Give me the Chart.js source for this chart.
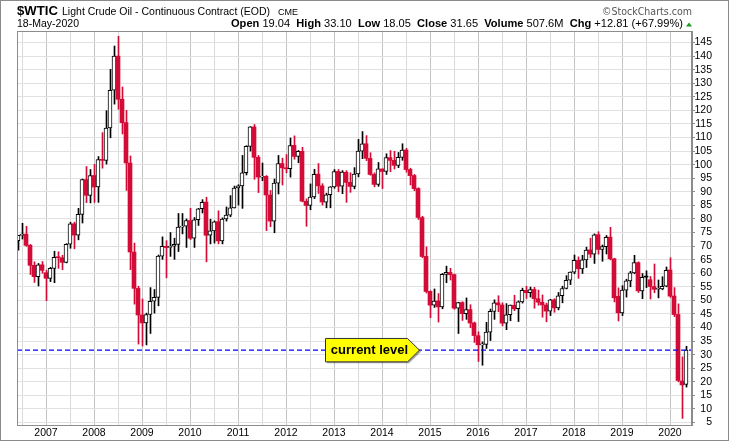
<!DOCTYPE html>
<html><head><meta charset="utf-8">
<script src="https://cdn.jsdelivr.net/npm/chart.js@4.4.1/dist/chart.umd.min.js"></script>
<style>html,body{margin:0;padding:0;background:#fff;}canvas{display:block;}</style>
</head><body>
<canvas id="c" width="730" height="442"></canvas>
<script>
// Monthly candles, first = June 2006
const startYear = 2006, startMonth = 5;
const opens = [
 72.0, 73.9, 74.4, 70.3, 62.9, 58.7, 63.1,
 60.2, 58.1, 61.8, 65.9, 65.7, 64.0, 70.7, 78.2, 74.0, 81.7, 94.5, 88.7,
 96.0, 91.8, 101.8, 101.6, 113.5, 127.4, 140.0, 124.1, 115.5, 100.6, 67.8, 54.4,
 44.6, 41.7, 44.8, 49.7, 51.1, 66.3, 69.9, 69.5, 70.0, 70.6, 77.0, 77.3,
 79.4, 72.9, 79.7, 83.8, 86.2, 74.0, 75.6, 79.0, 71.9, 80.0, 81.4, 84.1,
 91.4, 92.2, 97.0, 106.7, 113.9, 102.7, 95.4, 95.7, 88.8, 79.2, 93.2, 100.4,
 98.8, 98.5, 107.1, 103.0, 104.9, 86.5, 85.0, 88.1, 96.5, 92.2, 86.2, 88.9,
 91.8, 97.5, 92.1, 97.2, 93.5, 92.0, 96.6, 105.0, 107.7, 102.3, 96.4, 92.7,
 98.4, 97.5, 102.6, 101.6, 99.7, 102.7, 105.4, 98.2, 96.0, 91.2, 80.5, 66.2,
 53.3, 48.2, 49.8, 47.6, 59.6, 60.3, 59.5, 47.1, 49.2, 45.1, 46.6, 41.7,
 37.0, 33.6, 33.8, 38.3, 45.9, 49.1, 48.3, 41.6, 44.7, 48.2, 46.9, 49.4,
 53.7, 52.8, 54.0, 50.6, 49.3, 48.3, 46.0, 50.2, 47.2, 51.7, 54.4, 57.4,
 60.4, 64.7, 61.6, 64.9, 68.6, 67.0, 74.2, 68.8, 69.8, 73.3, 65.3, 51.5,
 45.4, 53.8, 57.2, 60.1, 63.9, 53.5, 58.9, 57.6, 55.1, 54.1, 54.2, 55.2,
 61.2, 51.6, 44.8, 20.3, 19.04
];
const highs = [
 74.0, 78.4, 77.3, 70.6, 64.2, 63.6, 64.3,
 61.1, 62.2, 68.1, 67.9, 66.6, 70.9, 78.8, 78.8, 83.9, 94.7, 99.3, 98.2,
 100.1, 103.0, 111.8, 119.9, 135.1, 143.7, 147.3, 128.6, 120.0, 103.2, 71.1, 55.2,
 50.5, 45.3, 54.7, 54.0, 66.7, 73.4, 72.0, 75.0, 72.9, 82.0, 82.0, 80.0,
 83.9, 80.5, 83.9, 87.1, 88.0, 79.9, 79.3, 83.0, 80.4, 84.4, 88.6, 92.1,
 92.6, 103.4, 107.0, 114.0, 114.8, 103.4, 100.6, 96.0, 90.5, 94.7, 103.4, 102.4,
 103.7, 109.8, 110.6, 105.2, 106.4, 87.4, 92.9, 98.3, 100.4, 93.0, 89.5, 91.9,
 98.2, 98.2, 97.8, 97.8, 97.0, 98.9, 109.3, 112.2, 110.7, 104.4, 97.0, 100.8,
 98.5, 104.0, 105.2, 104.9, 104.5, 107.7, 106.0, 98.7, 96.4, 91.5, 81.0, 69.7,
 53.5, 54.2, 52.5, 59.9, 62.6, 61.8, 59.7, 49.3, 49.5, 50.9, 48.4, 42.0,
 38.4, 34.7, 41.9, 46.8, 50.2, 51.7, 49.1, 48.8, 48.3, 51.9, 49.8, 54.5,
 55.2, 54.9, 54.8, 53.8, 52.0, 49.0, 50.4, 50.6, 52.9, 55.2, 59.1, 60.5,
 66.7, 66.0, 66.6, 69.6, 72.9, 74.5, 75.3, 70.4, 73.9, 76.9, 65.5, 54.6,
 55.4, 57.8, 60.7, 66.6, 64.2, 59.9, 60.9, 58.8, 63.4, 57.5, 58.7, 62.3,
 65.7, 54.7, 48.7, 29.2, 33.10
];
const lows = [
 68.5, 72.6, 69.9, 59.5, 56.6, 55.3, 60.0,
 49.9, 56.9, 56.5, 61.8, 61.3, 63.8, 69.2, 69.0, 72.3, 78.5, 86.0, 85.9,
 86.1, 86.1, 98.7, 100.2, 109.9, 122.3, 120.4, 111.3, 90.5, 61.3, 48.6, 33.9,
 33.2, 33.6, 37.8, 45.3, 48.0, 65.1, 58.3, 66.2, 65.1, 68.0, 74.5, 69.5,
 72.4, 69.5, 77.6, 82.2, 64.2, 70.8, 71.1, 70.8, 70.8, 79.2, 80.8, 84.0,
 85.1, 83.9, 96.2, 105.0, 94.6, 89.7, 94.1, 75.7, 77.1, 74.9, 89.2, 92.5,
 97.0, 95.4, 102.0, 100.7, 86.3, 77.3, 83.4, 87.5, 89.4, 85.1, 84.1, 84.1,
 91.3, 90.0, 89.3, 86.1, 89.8, 91.1, 95.5, 102.2, 101.5, 96.1, 91.8, 92.0,
 91.2, 96.4, 97.4, 98.4, 98.9, 101.6, 97.2, 92.5, 90.4, 79.8, 65.7, 52.7,
 43.6, 47.4, 42.0, 46.9, 56.5, 57.5, 46.7, 37.8, 42.6, 43.0, 39.9, 34.5,
 27.5, 26.1, 32.3, 35.2, 43.0, 45.8, 40.6, 39.2, 42.5, 46.2, 42.2, 49.0,
 50.7, 51.2, 47.1, 48.2, 43.8, 42.1, 44.4, 45.6, 46.5, 49.1, 54.2, 55.8,
 59.8, 58.1, 59.9, 62.1, 65.8, 63.6, 67.0, 64.4, 67.1, 64.9, 49.4, 42.4,
 44.4, 51.2, 55.0, 59.8, 52.9, 50.6, 54.7, 50.5, 52.8, 50.9, 53.9, 55.0,
 51.1, 44.0, 20.0, 6.5, 18.05
];
const closes = [
 73.93, 74.40, 70.26, 62.91, 58.73, 63.13, 61.05,
 58.14, 61.79, 65.87, 65.71, 64.01, 70.68, 78.21, 74.04, 81.66, 94.53, 88.71, 95.98,
 91.75, 101.84, 101.58, 113.46, 127.35, 140.00, 124.08, 115.46, 100.64, 67.81, 54.43, 44.60,
 41.68, 44.76, 49.66, 51.12, 66.31, 69.89, 69.45, 69.96, 70.61, 77.00, 77.28, 79.36,
 72.89, 79.66, 83.76, 86.15, 73.97, 75.63, 78.95, 71.92, 79.97, 81.43, 84.11, 91.38,
 92.19, 96.97, 106.72, 113.93, 102.70, 95.42, 95.70, 88.81, 79.20, 93.19, 100.36, 98.83,
 98.48, 107.07, 103.02, 104.87, 86.53, 84.96, 88.06, 96.47, 92.19, 86.24, 88.91, 91.82,
 97.49, 92.05, 97.23, 93.46, 91.97, 96.56, 105.03, 107.65, 102.33, 96.38, 92.72, 98.42,
 97.49, 102.59, 101.58, 99.74, 102.71, 105.37, 98.17, 95.96, 91.16, 80.54, 66.15, 53.27,
 48.24, 49.76, 47.60, 59.63, 60.30, 59.47, 47.12, 49.20, 45.09, 46.59, 41.65, 37.04,
 33.62, 33.75, 38.34, 45.92, 49.10, 48.33, 41.60, 44.70, 48.24, 46.86, 49.44, 53.72,
 52.81, 54.01, 50.60, 49.33, 48.32, 46.04, 50.17, 47.23, 51.67, 54.38, 57.40, 60.42,
 64.73, 61.64, 64.94, 68.57, 67.04, 74.15, 68.76, 69.80, 73.25, 65.31, 50.93, 45.41,
 53.79, 57.22, 60.14, 63.91, 53.50, 58.47, 58.58, 55.10, 54.07, 54.18, 55.17, 61.06,
 51.56, 44.76, 20.48, 18.84, 31.65
];
const currentLevel = 31.65;
const yStep = 5;
const yMin = 4.08, yMax = 149.24;
const xMin = -0.25, xMax = 168.5;

const RED = '#d40b37', BLACK = '#000000';
const idx = closes.map((_, i) => i);
const monthOf = v => (((startMonth + v) % 12) + 12) % 12;
const yearOf = v => startYear + Math.floor((startMonth + v) / 12);
const isUp = i => closes[i] >= opens[i];
const candleColor = i => {
  const prev = i > 0 ? closes[i - 1] : opens[i];
  return closes[i] < prev ? RED : BLACK;
};
const FONT = "'Liberation Sans', Arial, sans-serif";

function drawFit(ctx, text, x, y, font, color, width) {
  ctx.save();
  ctx.font = font; ctx.fillStyle = color; ctx.textBaseline = 'alphabetic'; ctx.textAlign = 'left';
  const w = ctx.measureText(text).width;
  const s = width ? width / w : 1;
  ctx.translate(x, y); ctx.scale(s, 1); ctx.fillText(text, 0, 0);
  ctx.restore();
}

const decor = {
  id: 'decor',
  afterDraw(chart) {
    const ctx = chart.ctx, a = chart.chartArea;
    ctx.save();
    ctx.strokeStyle = '#8c8c8c'; ctx.lineWidth = 1;
    ctx.strokeRect(a.left + 0.5, a.top + 0.5, a.right - a.left - 1, a.bottom - a.top);
    ctx.strokeStyle = '#8a8a8a';
    ctx.strokeRect(0.5, 0.5, 728, 440);
    ctx.restore();

    drawFit(ctx, '$WTIC', 17, 15, `bold 13px ${FONT}`, '#000', 41);
    drawFit(ctx, 'Light Crude Oil - Continuous Contract (EOD)', 62, 15, `10.5px ${FONT}`, '#000', 208);
    drawFit(ctx, 'CME', 278, 15, `9px ${FONT}`, '#000', 20);
    drawFit(ctx, '\u00A9StockCharts.com', 602, 14.5, `11px 'DejaVu Sans', ${FONT}`, '#555', 90);
    drawFit(ctx, '18-May-2020', 17, 27, `10.5px ${FONT}`, '#000', 62);
    const segs = [
      ['Open ', true], ['19.04  ', false], ['High ', true], ['33.10  ', false],
      ['Low ', true], ['18.05  ', false], ['Close ', true], ['31.65  ', false],
      ['Volume ', true], ['507.6M  ', false], ['Chg ', true], ['+12.81 (+67.99%)', false]
    ];
    ctx.save();
    let total = 0;
    segs.forEach(s => { ctx.font = (s[1] ? 'bold ' : '') + `10.5px ${FONT}`; total += ctx.measureText(s[0]).width; });
    const sc = (683 - 231) / total;
    ctx.translate(231, 27); ctx.scale(sc, 1);
    let cx = 0;
    segs.forEach(s => {
      ctx.font = (s[1] ? 'bold ' : '') + `10.5px ${FONT}`;
      ctx.fillStyle = '#000';
      ctx.fillText(s[0], cx, 0);
      cx += ctx.measureText(s[0]).width;
    });
    ctx.restore();
    ctx.save();
    ctx.fillStyle = '#1a9a1a';
    ctx.beginPath(); ctx.moveTo(686, 26.5); ctx.lineTo(692, 26.5); ctx.lineTo(689, 22.5); ctx.closePath(); ctx.fill();
    ctx.restore();

    const yp = chart.scales.y.getPixelForValue(currentLevel);
    const L = 325.5, R = 407.5, T = yp - 11.7, B = yp + 11.7, tip = 419.5;
    ctx.save();
    ctx.beginPath();
    ctx.moveTo(L + 1.5, T + 1.5); ctx.lineTo(R + 1.5, T + 1.5); ctx.lineTo(tip + 1.5, yp + 1.5);
    ctx.lineTo(R + 1.5, B + 1.5); ctx.lineTo(L + 1.5, B + 1.5); ctx.closePath();
    ctx.fillStyle = 'rgba(0,0,0,0.35)'; ctx.fill();
    ctx.beginPath();
    ctx.moveTo(L, T); ctx.lineTo(R, T); ctx.lineTo(tip, yp); ctx.lineTo(R, B); ctx.lineTo(L, B); ctx.closePath();
    ctx.fillStyle = '#ffff00'; ctx.fill();
    ctx.strokeStyle = '#333'; ctx.lineWidth = 1; ctx.stroke();
    ctx.fillStyle = '#000'; ctx.font = `bold 13px ${FONT}`;
    ctx.textAlign = 'center'; ctx.textBaseline = 'middle';
    ctx.fillText('current level', 369.5, yp);
    ctx.restore();
  }
};

new Chart(document.getElementById('c'), {
  type: 'bar',
  data: {
    datasets: [
      {
        label: 'wick',
        data: idx.map(i => ({ x: i + 0.125, y: [lows[i], highs[i]] })),
        backgroundColor: idx.map(candleColor),
        barThickness: 1, grouped: false, order: 2, borderWidth: 0
      },
      {
        label: 'body',
        data: idx.map(i => ({ x: i, y: [Math.min(opens[i], closes[i]), Math.max(opens[i], closes[i])] })),
        backgroundColor: idx.map(i => isUp(i) ? '#ffffff' : candleColor(i)),
        borderColor: idx.map(candleColor),
        borderWidth: idx.map(i => isUp(i) ? 1 : 0),
        borderSkipped: false, minBarLength: 1,
        barThickness: 4, grouped: false, order: 1
      },
      {
        type: 'line', label: 'current',
        data: [{ x: xMin, y: currentLevel }, { x: xMax, y: currentLevel }],
        borderColor: '#0000ff', borderWidth: 1.4, borderDash: [5, 3],
        pointRadius: 0, order: 0
      }
    ]
  },
  options: {
    responsive: false, animation: false, devicePixelRatio: 1, events: [],
    layout: { padding: { left: 17, top: 31, right: 18, bottom: 0 } },
    plugins: { legend: { display: false }, tooltip: { enabled: false } },
    scales: {
      x: {
        type: 'linear', min: xMin, max: xMax, offset: false,
        afterFit: s => { s.height = 17; },
        border: { display: true, color: '#8c8c8c' },
        grid: {
          offset: false, drawTicks: false,
          color: c => {
            if (!c.tick) return 'rgba(0,0,0,0)';
            const m = monthOf(c.tick.value);
            return m === 0 ? '#c4c4c4' : (m === 6 ? '#dadada' : 'rgba(0,0,0,0)');
          }
        },
        ticks: {
          stepSize: 1, autoSkip: false, maxRotation: 0, minRotation: 0, includeBounds: false,
          padding: 1.5, color: '#000', font: { family: FONT, size: 10.5 },
          callback: v => (Number.isInteger(v) && monthOf(v) === 0) ? String(yearOf(v)) : ''
        }
      },
      y: {
        type: 'linear', position: 'right', min: yMin, max: yMax, beginAtZero: false,
        afterFit: s => { s.width = 20; },
        border: { display: true, color: '#8c8c8c' },
        grid: { color: '#e1e1e1', tickColor: '#8c8c8c', tickLength: 3, drawTicks: true },
        ticks: {
          stepSize: yStep, includeBounds: false, autoSkip: false, padding: 0, crossAlign: 'far',
          color: '#000', font: { family: FONT, size: 10.5 }
        }
      }
    }
  },
  plugins: [decor]
});
</script>
</body></html>
